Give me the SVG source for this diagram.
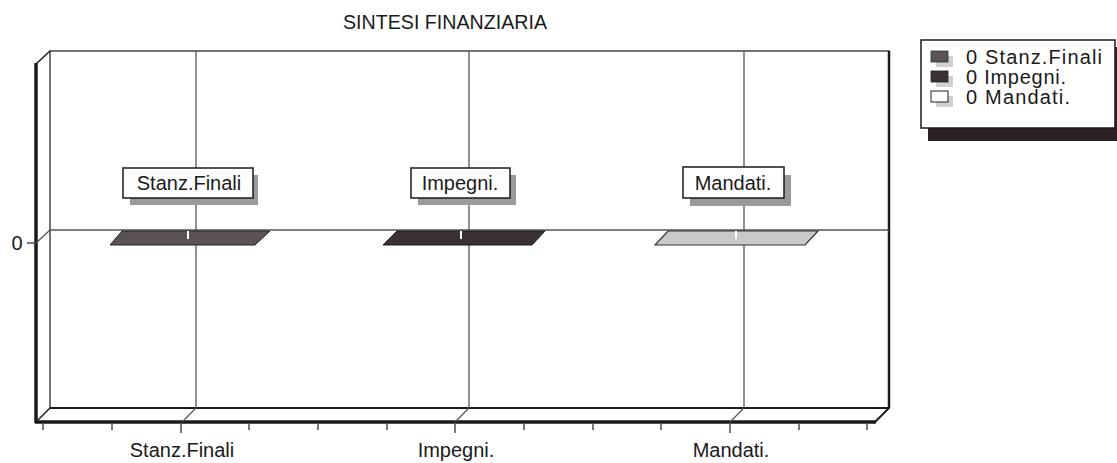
<svg xmlns="http://www.w3.org/2000/svg" width="1117" height="463" viewBox="0 0 1117 463">
<style>
text{font-family:"Liberation Sans",Arial,sans-serif;fill:#1a1a1a}
.t20{font-size:20px}
.grid{stroke:#555;stroke-width:1.3;fill:none}
.edge{stroke:#1a1a1a;fill:none}
.lbl{fill:#fff;stroke:#1a1a1a;stroke-width:1.5}
.shd{fill:#9a9a9a}
.notch{stroke:#fff;stroke-width:2}
.tick{stroke:#333;stroke-width:1.3}
</style>
<rect width="1117" height="463" fill="#fff"/>
<text x="445" y="29" class="t20" text-anchor="middle" textLength="204" lengthAdjust="spacingAndGlyphs">SINTESI FINANZIARIA</text>
<g id="chart-frame">
<rect x="50" y="51" width="839" height="357" fill="#fff" stroke="#444" stroke-width="1.5"/>
<line x1="889" y1="51" x2="889" y2="408" class="edge" stroke-width="2.5"/>
<line x1="50" y1="408" x2="889" y2="408" class="edge" stroke-width="2"/>
<line x1="36" y1="64" x2="50" y2="51" class="edge" stroke-width="1.5"/>
<line x1="36" y1="422" x2="50" y2="408" class="edge" stroke-width="1.5"/>
<line x1="875" y1="422" x2="889" y2="408" class="edge" stroke-width="2"/>
<line x1="36" y1="63" x2="36" y2="423" class="edge" stroke-width="3.5"/>
<line x1="35" y1="422" x2="876" y2="422" class="edge" stroke-width="3.5"/>
</g>
<g id="gridlines">
<line x1="50" y1="230" x2="889" y2="230" class="grid"/>
<line x1="36" y1="243" x2="50" y2="230" class="grid"/>
<line x1="27" y1="243" x2="36" y2="243" class="tick"/>
<line x1="196" y1="51" x2="196" y2="408" class="grid"/>
<line x1="196" y1="408" x2="182" y2="422" class="grid"/>
<line x1="469" y1="51" x2="469" y2="408" class="grid"/>
<line x1="469" y1="408" x2="455" y2="422" class="grid"/>
<line x1="744" y1="51" x2="744" y2="408" class="grid"/>
<line x1="744" y1="408" x2="730" y2="422" class="grid"/>
</g>
<text x="17" y="250" class="t20" text-anchor="middle">0</text>
<g id="ticks">
<line x1="43" y1="424" x2="43" y2="430" class="tick"/>
<line x1="112" y1="424" x2="112" y2="430" class="tick"/>
<line x1="181" y1="424" x2="181" y2="433" class="tick"/>
<line x1="249" y1="424" x2="249" y2="430" class="tick"/>
<line x1="318" y1="424" x2="318" y2="430" class="tick"/>
<line x1="387" y1="424" x2="387" y2="430" class="tick"/>
<line x1="455" y1="424" x2="455" y2="433" class="tick"/>
<line x1="524" y1="424" x2="524" y2="430" class="tick"/>
<line x1="593" y1="424" x2="593" y2="430" class="tick"/>
<line x1="661" y1="424" x2="661" y2="430" class="tick"/>
<line x1="730" y1="424" x2="730" y2="433" class="tick"/>
<line x1="799" y1="424" x2="799" y2="430" class="tick"/>
<line x1="867" y1="424" x2="867" y2="430" class="tick"/>
</g>
<g id="bar-stanz">
<polygon points="122,231 270,231 255,245 110,245" fill="#5a5256" stroke="#222" stroke-width="1"/>
<line x1="188" y1="231" x2="188" y2="239" class="notch"/>
</g>
<g id="bar-impegni">
<polygon points="397,231 545,231 532,245 383,245" fill="#3a3035" stroke="#1a1a1a" stroke-width="1"/>
<line x1="461" y1="231" x2="461" y2="239" class="notch"/>
</g>
<g id="bar-mandati">
<polygon points="668,231 818,231 805,245 655,245" fill="#c9c9c9" stroke="#333" stroke-width="1.2"/>
<line x1="736" y1="231" x2="736" y2="239" class="notch"/>
</g>
<g id="label-stanz">
<rect x="130" y="175" width="128" height="30" class="shd"/>
<rect x="123" y="168" width="130" height="30" class="lbl"/>
<text x="189" y="190" class="t20" text-anchor="middle">Stanz.Finali</text>
</g>
<g id="label-impegni">
<rect x="418" y="175" width="98" height="30" class="shd"/>
<rect x="411" y="168" width="99" height="30" class="lbl"/>
<text x="460" y="190" class="t20" text-anchor="middle">Impegni.</text>
</g>
<g id="label-mandati">
<rect x="690" y="175" width="101" height="31" class="shd"/>
<rect x="683" y="167" width="101" height="31" class="lbl"/>
<text x="733" y="190" class="t20" text-anchor="middle">Mandati.</text>
</g>
<g id="axis-labels">
<text x="182" y="457" class="t20" text-anchor="middle">Stanz.Finali</text>
<text x="456" y="457" class="t20" text-anchor="middle">Impegni.</text>
<text x="731" y="457" class="t20" text-anchor="middle">Mandati.</text>
</g>
<g id="legend">
<rect x="928" y="47" width="200" height="94" fill="#2a2226"/>
<rect x="921" y="40" width="194" height="88" fill="#fff" stroke="#1a1a1a" stroke-width="1.5"/>
<rect x="936" y="56" width="17" height="11" fill="#d0d0d0"/>
<rect x="931" y="51" width="17" height="11" fill="#5a5256" stroke="#333" stroke-width="0.8"/>
<rect x="936" y="76" width="17" height="11" fill="#d0d0d0"/>
<rect x="931" y="71" width="17" height="11" fill="#3a3035" stroke="#222" stroke-width="0.8"/>
<rect x="936" y="96" width="17" height="11" fill="#d0d0d0"/>
<rect x="931" y="91" width="17" height="11" fill="#fff" stroke="#222" stroke-width="1"/>
<text x="966" y="64" class="t20" textLength="136" lengthAdjust="spacing">0 Stanz.Finali</text>
<text x="966" y="84" class="t20" textLength="100" lengthAdjust="spacing">0 Impegni.</text>
<text x="966" y="104" class="t20" textLength="104" lengthAdjust="spacing">0 Mandati.</text>
</g>
</svg>
